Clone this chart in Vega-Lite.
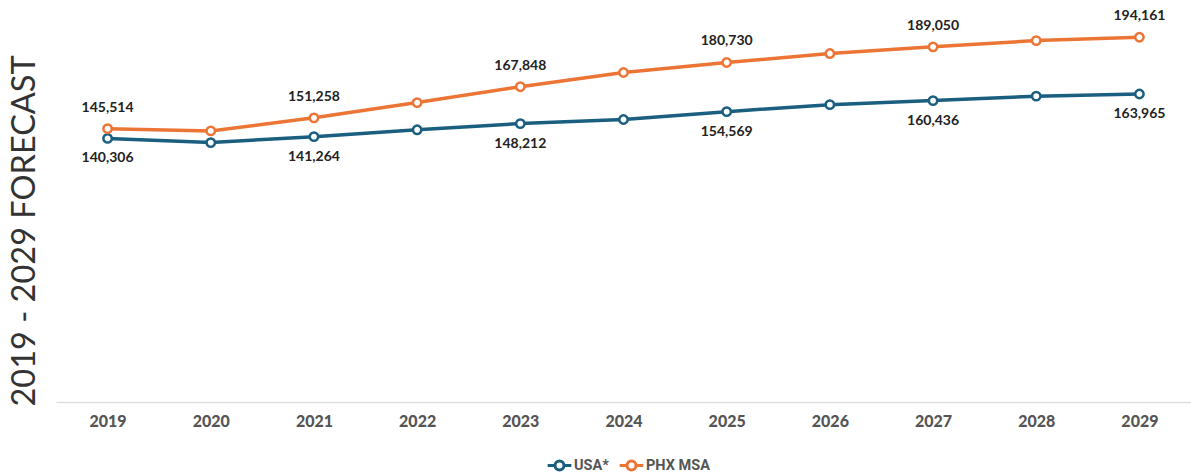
{
  "$schema": "https://vega.github.io/schema/vega-lite/v6.json",
  "autosize": {"type": "none"},
  "width": 1135,
  "height": 402,
  "padding": {"left": 56, "top": 0, "right": 0, "bottom": 72},
  "background": "white",
  "config": {"view": {"stroke": null}, "font": "Lato"},
  "data": {
    "values": [
      {"year": "2019", "series": "USA*", "value": 140306},
      {"year": "2020", "series": "USA*", "value": 138100},
      {"year": "2021", "series": "USA*", "value": 141264},
      {"year": "2022", "series": "USA*", "value": 144900},
      {"year": "2023", "series": "USA*", "value": 148212},
      {"year": "2024", "series": "USA*", "value": 150400},
      {"year": "2025", "series": "USA*", "value": 154569},
      {"year": "2026", "series": "USA*", "value": 158300},
      {"year": "2027", "series": "USA*", "value": 160436},
      {"year": "2028", "series": "USA*", "value": 162800},
      {"year": "2029", "series": "USA*", "value": 163965},
      {"year": "2019", "series": "PHX MSA", "value": 145514},
      {"year": "2020", "series": "PHX MSA", "value": 144300},
      {"year": "2021", "series": "PHX MSA", "value": 151258},
      {"year": "2022", "series": "PHX MSA", "value": 159400},
      {"year": "2023", "series": "PHX MSA", "value": 167848},
      {"year": "2024", "series": "PHX MSA", "value": 175400},
      {"year": "2025", "series": "PHX MSA", "value": 180730},
      {"year": "2026", "series": "PHX MSA", "value": 185500},
      {"year": "2027", "series": "PHX MSA", "value": 189050},
      {"year": "2028", "series": "PHX MSA", "value": 192400},
      {"year": "2029", "series": "PHX MSA", "value": 194161}
    ]
  },
  "encoding": {
    "x": {
      "field": "year", "type": "ordinal",
      "scale": {"type": "point", "padding": 0.5},
      "axis": {
        "title": null, "labelAngle": 0, "ticks": false, "grid": false,
        "domainColor": "#dddddd", "domainWidth": 1.5,
        "labelFont": "Lato", "labelFontWeight": 900, "labelFontSize": 16,
        "labelColor": "#555555", "labelPadding": 11
      }
    },
    "y": {
      "field": "value", "type": "quantitative",
      "scale": {"domain": [0, 214000], "nice": false, "zero": true},
      "axis": {
        "title": "2019 - 2029 FORECAST", "labels": false, "ticks": false, "domain": false, "grid": false,
        "titleFont": "Lato", "titleFontSize": 32.5, "titleFontWeight": "normal", "titleColor": "#333333",
        "titleAngle": -90, "titleAlign": "left", "titleBaseline": "alphabetic",
        "titleX": -22, "titleY": 406
      }
    },
    "color": {
      "field": "series", "type": "nominal",
      "scale": {"domain": ["USA*", "PHX MSA"], "range": ["#1a5e80", "#ec7535"]},
      "legend": {
        "orient": "none", "legendX": 490, "legendY": 452, "direction": "horizontal", "title": null,
        "symbolType": "M-1,0 h0.62 M0.38,0 h0.62 M0.38,0 a0.38,0.38 0 1,1 -0.76,0 a0.38,0.38 0 1,1 0.76,0",
        "symbolSize": 560, "symbolStrokeWidth": 3, "symbolFillColor": "white",
        "labelFont": "Roboto", "labelFontWeight": "bold", "labelFontSize": 14.5, "labelColor": "#555555",
        "columnPadding": 4, "labelOffset": 1
      }
    }
  },
  "layer": [
    {
      "mark": {"type": "line", "strokeWidth": 3.5}
    },
    {
      "mark": {"type": "point", "filled": false, "fill": "white", "opacity": 1, "strokeWidth": 2.5, "size": 70}
    },
    {
      "transform": [
        {"filter": {"field": "year", "oneOf": ["2019", "2021", "2023", "2025", "2027", "2029"]}},
        {"filter": "datum.series == 'PHX MSA'"}
      ],
      "mark": {"type": "text", "dy": -21, "fontSize": 14, "fontWeight": "bold", "font": "Lato"},
      "encoding": {"text": {"field": "value", "type": "quantitative", "format": ","}, "color": {"value": "#222222"}}
    },
    {
      "transform": [
        {"filter": {"field": "year", "oneOf": ["2019", "2021", "2023", "2025", "2027", "2029"]}},
        {"filter": "datum.series == 'USA*'"}
      ],
      "mark": {"type": "text", "dy": 20, "fontSize": 14, "fontWeight": "bold", "font": "Lato"},
      "encoding": {"text": {"field": "value", "type": "quantitative", "format": ","}, "color": {"value": "#222222"}}
    }
  ]
}
